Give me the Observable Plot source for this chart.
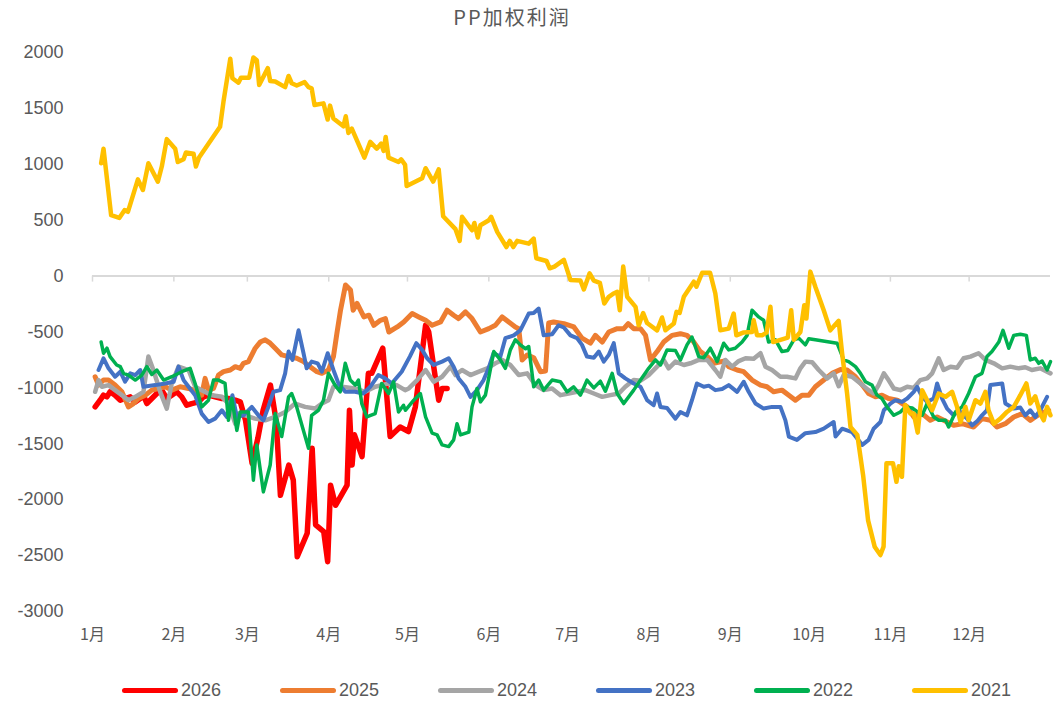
<!DOCTYPE html>
<html>
<head>
<meta charset="utf-8">
<script src="https://cdn.jsdelivr.net/npm/d3@7"></script>
<script src="https://cdn.jsdelivr.net/npm/@observablehq/plot@0.6"></script>
<style>
  html, body { margin: 0; padding: 0; background: #fff; }
  #wrap { position: relative; width: 1063px; height: 707px; overflow: hidden; }
  #title { position: absolute; top: 2px; left: 0; width: 1024px; text-align: center;
    font-family: "Noto Sans CJK SC", sans-serif; font-weight: 400; font-size: 20px; letter-spacing: 2px; color: #595959; }
  #chart { position: absolute; top: 30px; left: 0; }
  #legend { position: absolute; top: 678px; left: 122px; display: flex; align-items: center; height: 24px;
    font-family: "Liberation Sans", Arial, sans-serif; font-size: 18px; color: #595959; }
  .item { width: 158px; display: flex; align-items: center; }
  .sw { width: 56px; height: 5px; border-radius: 3px; margin-right: 3px; }
</style>
</head>
<body>
<div id="wrap">
  <div id="title">PP加权利润</div>
  <div id="chart"></div>
  <div id="legend"></div>
</div>
<script>
const months = ["1月","2月","3月","4月","5月","6月","7月","8月","9月","10月","11月","12月"];
const monthStart = [0,31,59,90,120,151,181,212,243,273,304,334];
const yTicks = [-3000,-2500,-2000,-1500,-1000,-500,0,500,1000,1500,2000];
const seriesNames = ["2026","2025","2024","2023","2022","2021"];
const seriesColors = ["#FF0000","#ED7D31","#A5A5A5","#4472C4","#00B050","#FFC000"];

// [day of year, profit]
const y2026 = [[1,-1170],[2.9,-1110],[4.2,-1065],[5.5,-1080],[6.7,-1035],[8.6,-1065],[10.6,-1110],[12.4,-1095],[14.4,-1080],[16.3,-1125],[18.2,-1095],[19.4,-1065],[20.7,-1140],[22.6,-1095],[24.5,-1050],[26.4,-1020],[28.3,-1095],[30.2,-1065],[32.1,-1035],[34,-1080],[35.9,-1155],[37.8,-1140],[40.4,-1125],[42.3,-1080],[44.2,-1065],[46.7,-1080],[49.3,-1095],[51.8,-1095],[54.4,-1110],[56.3,-1125],[58.3,-1290],[60.8,-1675],[63,-1450],[65,-1200],[67.8,-975],[70,-1300],[71.6,-1960],[74.8,-1690],[76.5,-1825],[78,-2510],[81.8,-2300],[83.7,-1540],[85,-2225],[88.1,-2285],[89.6,-2555],[90.7,-1870],[92.6,-2050],[97,-1870],[97.9,-1200],[98.9,-1690],[99.8,-1420],[102.7,-1615],[105.1,-870],[106.4,-870],[110.6,-645],[113.4,-1435],[117.2,-1350],[120.4,-1390],[123,-1170],[126.9,-440],[128.1,-500],[130,-810],[131.9,-1110],[133.2,-1005],[135.1,-1005]];

const y2025 = [[1,-900],[2.3,-975],[4.2,-930],[6.1,-930],[8.6,-975],[11.2,-1035],[13.7,-1170],[15.6,-1140],[17.5,-1095],[20.1,-1065],[22.6,-1020],[25.1,-1005],[27.7,-990],[30.2,-1020],[33.4,-990],[36.6,-1005],[40.4,-1035],[41.6,-1065],[42.9,-915],[44.2,-1020],[46.1,-1005],[48,-885],[49.9,-855],[52.5,-840],[54.4,-810],[56.3,-825],[57.5,-780],[59.4,-765],[62,-645],[63.9,-590],[65.8,-570],[67.7,-600],[69.6,-645],[72.1,-705],[74.7,-720],[77.8,-735],[80.4,-765],[82.9,-810],[85.5,-855],[87.4,-870],[89.9,-840],[91.8,-720],[93.1,-515],[94.5,-305],[96.4,-80],[98.3,-125],[99.3,-305],[100.8,-245],[103.4,-365],[105.3,-350],[107.2,-440],[109.7,-395],[111.6,-380],[112.9,-500],[116.1,-455],[118.6,-410],[121.8,-335],[124.3,-365],[126.9,-395],[129.4,-440],[132.6,-410],[135.1,-305],[137.6,-350],[139.5,-380],[142.1,-320],[144.6,-380],[147.8,-500],[151,-470],[153.5,-440],[156.1,-365],[158.6,-410],[161.1,-455],[162.4,-470],[163.7,-750],[165.6,-705],[168.1,-730],[170.7,-855],[172.6,-850],[173.8,-420],[175.7,-410],[179.6,-425],[183.4,-455],[186.5,-555],[189.7,-600],[191.6,-530],[194.2,-590],[196.7,-500],[199.9,-470],[202.4,-470],[204.1,-425],[206.2,-470],[208.8,-470],[210.7,-530],[212.6,-750],[215.1,-675],[217.6,-590],[220.8,-530],[224,-515],[226.5,-530],[229.1,-590],[231.6,-675],[234.2,-720],[236.7,-780],[240.5,-760],[242.4,-810],[245.6,-840],[248.1,-855],[251.3,-930],[254.5,-975],[257,-990],[259.5,-1035],[262.7,-1020],[265.3,-1065],[267.8,-1110],[270.3,-1065],[272.9,-1065],[275.4,-990],[278.6,-930],[281.8,-870],[285,-835],[287.5,-840],[290.7,-900],[293.8,-990],[295.7,-1050],[298.3,-1080],[300.8,-1065],[303.3,-1095],[306.6,-1110],[310.4,-1170],[312.9,-1260],[316.1,-1230],[319.2,-1290],[321.8,-1260],[324.3,-1290],[328.1,-1335],[331.3,-1320],[335.7,-1350],[338.9,-1275],[342.1,-1290],[344.6,-1350],[347.8,-1320],[351,-1260],[354.2,-1230],[357.3,-1290],[359.2,-1260],[361.1,-1230],[364.3,-1200]];

const y2024 = [[1,-1035],[2.3,-930],[3.6,-990],[6.1,-975],[8.6,-1020],[11.2,-1065],[13.7,-1110],[16.3,-1080],[19.4,-1035],[21.3,-720],[23.2,-840],[25.8,-1035],[28.3,-1185],[30.2,-960],[32.8,-810],[36.6,-840],[39.1,-990],[41.6,-1020],[45.4,-1065],[49.3,-1080],[51.8,-1140],[54.4,-1320],[55.6,-1230],[58.2,-1245],[61.9,-1275],[65.8,-1290],[69.6,-1260],[73.4,-1215],[77.2,-1140],[81,-1170],[84.8,-1185],[87.4,-1140],[89.9,-1110],[91.8,-990],[95,-990],[100,-1005],[103.9,-1035],[107.7,-990],[110.2,-975],[112.8,-960],[115.9,-975],[119.1,-1020],[120.5,-1005],[123.7,-930],[126.9,-840],[130,-945],[133.2,-900],[136.4,-810],[138.3,-885],[140.8,-840],[144,-885],[147.2,-855],[150.4,-825],[153.5,-780],[156.1,-750],[159.2,-795],[162.4,-885],[165.6,-870],[168.8,-975],[171.9,-1020],[175.1,-1005],[178.3,-1065],[181.4,-1050],[184.6,-1035],[187.8,-1020],[191,-1050],[194.2,-1080],[197.3,-1065],[200.5,-1050],[203,-990],[206.2,-930],[208.8,-935],[211.9,-885],[215.1,-810],[217.6,-750],[219.5,-825],[222.1,-765],[225.3,-795],[227.8,-780],[231,-750],[234.2,-750],[237.3,-840],[239.2,-900],[241.1,-750],[243.7,-810],[246.2,-760],[248.8,-735],[251.9,-740],[254.5,-690],[256.4,-810],[258.9,-840],[262.1,-900],[264.6,-900],[267.8,-915],[269.7,-825],[271.6,-765],[274.2,-770],[276.7,-840],[279.9,-915],[282.4,-870],[284.3,-985],[286.2,-885],[289.4,-900],[292.6,-960],[295.7,-1020],[297.6,-1050],[299.5,-975],[301.5,-870],[303.3,-930],[305.3,-1005],[307.8,-1020],[310.4,-990],[312.9,-1000],[315.4,-930],[318,-915],[319.9,-870],[322.4,-735],[324.3,-840],[326.9,-810],[329.4,-820],[331.9,-735],[334.5,-720],[337.6,-690],[340.2,-750],[343.4,-780],[346.6,-825],[349.7,-810],[352.9,-825],[355.4,-815],[357.9,-840],[361.1,-825],[365,-870]];

const y2023 = [[2.3,-840],[4.2,-735],[6.1,-825],[8.6,-900],[10.6,-855],[12.4,-945],[14.4,-870],[16.3,-885],[18.2,-840],[19.4,-990],[23.9,-975],[27.7,-960],[30.9,-945],[32.8,-810],[34.7,-930],[36.6,-990],[39.1,-1065],[41.6,-1230],[44.2,-1305],[46.7,-1275],[49.3,-1200],[51.2,-1260],[53.3,-1065],[55,-1260],[57.5,-1245],[60.7,-1170],[63.2,-1245],[65.1,-1290],[67,-1170],[68.9,-1035],[71.5,-1020],[73.4,-870],[74.7,-675],[76.2,-750],[78.5,-485],[80.4,-690],[81.6,-825],[83.5,-765],[85.8,-780],[87.4,-855],[89.6,-690],[91.8,-840],[93.7,-960],[96.3,-1035],[100,-1035],[103.2,-1050],[105.8,-990],[108.9,-885],[111.5,-915],[114,-960],[117.8,-855],[120.9,-720],[123.4,-600],[125.6,-660],[127.5,-735],[130,-795],[133.2,-765],[135.7,-735],[137.6,-810],[139.5,-915],[142.1,-990],[144,-1080],[146.5,-1020],[149,-930],[150.9,-825],[152.8,-690],[155.4,-720],[157.3,-555],[160.5,-530],[163,-485],[166.2,-335],[168.1,-330],[170,-290],[171.9,-530],[175.1,-520],[177.6,-440],[179.6,-460],[182.1,-530],[184.6,-555],[186.5,-615],[188.4,-720],[191,-730],[192.9,-675],[194.8,-765],[196.7,-705],[198.6,-600],[200.5,-870],[203,-915],[206.2,-960],[208.8,-990],[211.3,-1110],[213.8,-1155],[215.1,-1050],[216.4,-1170],[218.9,-1180],[222.1,-1275],[224,-1215],[226.5,-1245],[228.4,-1110],[230.3,-960],[232.9,-990],[234.8,-980],[237.3,-1020],[239.9,-1010],[242.4,-975],[245.6,-1035],[248.1,-945],[250,-1035],[252.6,-1140],[255.7,-1185],[258.9,-1170],[262.1,-1170],[264,-1290],[265.3,-1435],[268.4,-1465],[271.6,-1405],[275.4,-1395],[278.6,-1365],[282.4,-1305],[283.1,-1435],[285.6,-1365],[287.5,-1380],[289.4,-1395],[293.3,-1510],[295.7,-1465],[297.6,-1365],[300.2,-1305],[301.5,-1200],[304,-1140],[305.9,-1110],[308.4,-1125],[310.4,-1095],[312.9,-1035],[314.2,-990],[316.1,-1080],[318,-1125],[320.5,-1095],[321.8,-960],[323.7,-1095],[325.6,-1185],[328.1,-1245],[330,-1200],[333.2,-1275],[335.1,-1335],[337,-1300],[338.9,-1245],[340.8,-1200],[342.1,-975],[346.6,-960],[347.8,-1140],[351,-1185],[353.5,-1175],[355.4,-1245],[357.3,-1200],[359.2,-1260],[361.1,-1200],[363.7,-1080]];

const y2022 = [[3.3,-590],[4.2,-690],[5.5,-645],[6.7,-720],[9.2,-795],[10.6,-810],[11.8,-870],[13.7,-885],[16.3,-930],[18.8,-885],[20.7,-810],[22.6,-880],[24.5,-840],[27.1,-930],[30.2,-900],[34,-855],[37.2,-825],[39.1,-960],[41.6,-1170],[44.2,-1110],[46.1,-930],[48,-930],[50.5,-960],[51.8,-1290],[53.1,-1095],[55,-1380],[56.3,-1215],[59.4,-1215],[61.3,-1825],[62.6,-1510],[65.1,-1930],[67.7,-1690],[69.6,-1230],[72.1,-1435],[74.7,-1080],[75.9,-1050],[77.8,-1170],[82.3,-1540],[83.5,-1245],[86.1,-1200],[88,-1110],[89.9,-870],[92.4,-975],[94.4,-1035],[96.3,-780],[98.2,-930],[100.1,-975],[101.3,-930],[102.6,-1140],[104.5,-1260],[107.7,-1230],[110.2,-960],[112.8,-1050],[114.7,-945],[116.6,-1215],[118.5,-1155],[119.2,-1200],[122.4,-1110],[124.9,-1050],[126.9,-1260],[129.4,-1405],[131.3,-1420],[133.2,-1510],[135.7,-1525],[137.6,-1465],[138.9,-1320],[140.2,-1420],[143.4,-1395],[144.6,-1170],[146.5,-1005],[147.8,-1125],[149.7,-1065],[152.9,-675],[155.4,-750],[157.3,-825],[159.2,-660],[161.1,-570],[163,-615],[165,-650],[166.2,-630],[168.1,-990],[170,-930],[171.9,-1020],[175.1,-930],[178.3,-945],[180.8,-1035],[183.3,-990],[185.9,-1065],[188.4,-930],[191,-1000],[193.5,-940],[195.4,-1030],[198,-870],[199.9,-1050],[202.4,-1140],[206.2,-1020],[208.8,-930],[211.9,-825],[214.5,-750],[216.4,-795],[218.9,-660],[222.1,-665],[224,-750],[226.5,-615],[228.4,-545],[231,-720],[232.9,-730],[235.4,-645],[238,-765],[240.5,-600],[242.4,-660],[244.9,-645],[247.5,-590],[249.4,-530],[251.3,-305],[253.8,-365],[255.7,-395],[257.6,-590],[260.2,-570],[262.7,-675],[264.9,-665],[267.2,-570],[269.1,-555],[271.6,-615],[272.9,-560],[275.4,-570],[283.7,-600],[286.2,-750],[288.1,-765],[290.7,-810],[292.6,-870],[294.5,-945],[297,-975],[298.9,-1065],[300.8,-1095],[302.7,-1170],[305.3,-1245],[307.8,-1215],[309.7,-1170],[312.3,-1180],[316.1,-1245],[318,-1140],[320.5,-1260],[322.4,-1290],[325,-1290],[326.2,-1350],[328.8,-1215],[331.3,-1170],[333.8,-1050],[336.4,-900],[338.9,-870],[340.8,-720],[342.7,-675],[345.3,-590],[346.9,-485],[349.1,-645],[351,-530],[353.5,-520],[355.8,-530],[357.3,-750],[359.2,-735],[360.5,-780],[361.8,-760],[363.7,-840],[365,-765]];

const y2021 = [[3.3,1010],[4.2,1140],[7.1,545],[10.2,520],[12.2,590],[13.5,575],[17.3,865],[19.2,770],[21.3,1010],[24.9,845],[26.4,980],[28.3,1225],[31.5,1140],[32.5,1020],[34.7,1045],[35.6,1105],[38.5,1095],[39.4,980],[40.6,1060],[48.6,1335],[49.9,1560],[52.5,1945],[53.3,1770],[55.6,1730],[56.6,1775],[59.7,1775],[61.3,1955],[62.6,1930],[63.5,1710],[66.8,1860],[67.7,1745],[69.6,1740],[73.4,1690],[74.7,1790],[75.9,1725],[77.8,1705],[80.8,1735],[82.3,1690],[83.5,1680],[84.6,1530],[88,1545],[89.6,1400],[90.5,1525],[91.8,1410],[95.6,1340],[96.5,1430],[97.5,1280],[98.8,1320],[103.6,1060],[105.8,1200],[108.3,1140],[110,1185],[110.9,1120],[111.7,1245],[112.8,1060],[116.6,1020],[117.6,1045],[119.1,995],[119.7,805],[125.6,875],[126.9,965],[129.8,845],[131.9,955],[133.6,535],[138.3,420],[139.9,315],[140.8,530],[144.6,410],[145.5,475],[146.8,345],[147.8,455],[151,500],[151.9,530],[154.2,395],[157.7,260],[159,315],[160.3,260],[161.8,315],[166.2,290],[168.1,335],[169.1,160],[173,135],[174.2,70],[176,85],[179.6,145],[182.1,-35],[185.9,-40],[187.2,-120],[189.4,25],[191,-40],[193.3,-60],[195,-245],[196.7,-185],[198.6,-155],[199.9,-140],[200.9,-305],[202.2,85],[203.7,-185],[206.9,-275],[208.1,-440],[209.8,-330],[211.3,-420],[215.1,-485],[217,-370],[218.3,-485],[221.5,-425],[222.5,-320],[223.7,-330],[225.3,-185],[229.1,-50],[230.1,-95],[232.3,30],[235.3,30],[237.3,-155],[239.2,-485],[242.4,-470],[244.3,-335],[245.3,-530],[247.9,-505],[251.3,-500],[251.9,-395],[253.2,-530],[255.1,-530],[256.8,-505],[258.3,-275],[259.3,-590],[262.1,-570],[264.9,-550],[266.2,-305],[267.2,-570],[269.7,-500],[271.2,-260],[272,-380],[273.5,40],[275.4,-95],[278.6,-305],[281.1,-485],[284.3,-400],[285.6,-690],[287.5,-1050],[288.8,-1350],[291.4,-1420],[293.6,-1780],[295.5,-2185],[298,-2420],[300.2,-2495],[301.4,-2420],[302.5,-1675],[305,-1675],[306.3,-1840],[307.2,-1700],[308.4,-1795],[309.7,-1155],[311.6,-1230],[312.9,-1230],[314.4,-1400],[316.1,-1020],[318,-1110],[319.9,-1200],[322.4,-1050],[325,-1080],[327.5,-1035],[329.4,-1170],[330.7,-1305],[332.6,-1170],[333.8,-1290],[336.4,-1110],[338.3,-1140],[340.2,-1035],[341.4,-1200],[343.4,-1320],[345.9,-1275],[348.4,-1215],[351,-1170],[353.5,-1065],[355.8,-960],[357.3,-1140],[359.2,-1075],[361.1,-1230],[362.4,-1290],[363.7,-1170],[365,-1245]];

const seriesData = [y2026, y2025, y2024, y2023, y2022, y2021];
const seriesWidths = [5.5, 5, 4.5, 4, 3.5, 4.5];

const lineMarks = seriesData.map((data, k) =>
  Plot.line(data, {x: d => d[0], y: d => d[1], stroke: seriesColors[k],
    strokeWidth: seriesWidths[k], strokeLinejoin: "round", strokeLinecap: "round"}));

const chart = Plot.plot({
  width: 1063, height: 640,
  marginTop: 22, marginBottom: 59, marginLeft: 92, marginRight: 13,
  x: {domain: [0, 365], axis: null},
  y: {domain: [-3000, 2000], axis: null},
  style: {fontFamily: "'Liberation Sans', Arial, sans-serif", background: "#fff", overflow: "visible"},
  marks: [
    Plot.ruleY([0], {stroke: "#d9d9d9", strokeWidth: 2}),
    Plot.ruleX(monthStart, {x: d => d, y1: 0, y2: 0, insetBottom: -6, stroke: "#d9d9d9", strokeWidth: 1.5}),
    Plot.axisY(yTicks, {tickSize: 0, tickPadding: 29, tickFormat: d => String(d), fontSize: 18, fill: "#595959"}),
    Plot.axisX(monthStart, {tickSize: 0, tickPadding: 17, tickFormat: d => months[monthStart.indexOf(d)],
      fontSize: 16, fill: "#595959", fontFamily: "'Noto Sans CJK SC', sans-serif"}),
    ...lineMarks
  ]
});
document.getElementById("chart").appendChild(chart);

const legend = document.getElementById("legend");
seriesNames.forEach((name, k) => {
  const item = document.createElement("div");
  item.className = "item";
  const sw = document.createElement("span");
  sw.className = "sw";
  sw.style.background = seriesColors[k];
  const lab = document.createElement("span");
  lab.textContent = name;
  item.appendChild(sw);
  item.appendChild(lab);
  legend.appendChild(item);
});
</script>
</body>
</html>
